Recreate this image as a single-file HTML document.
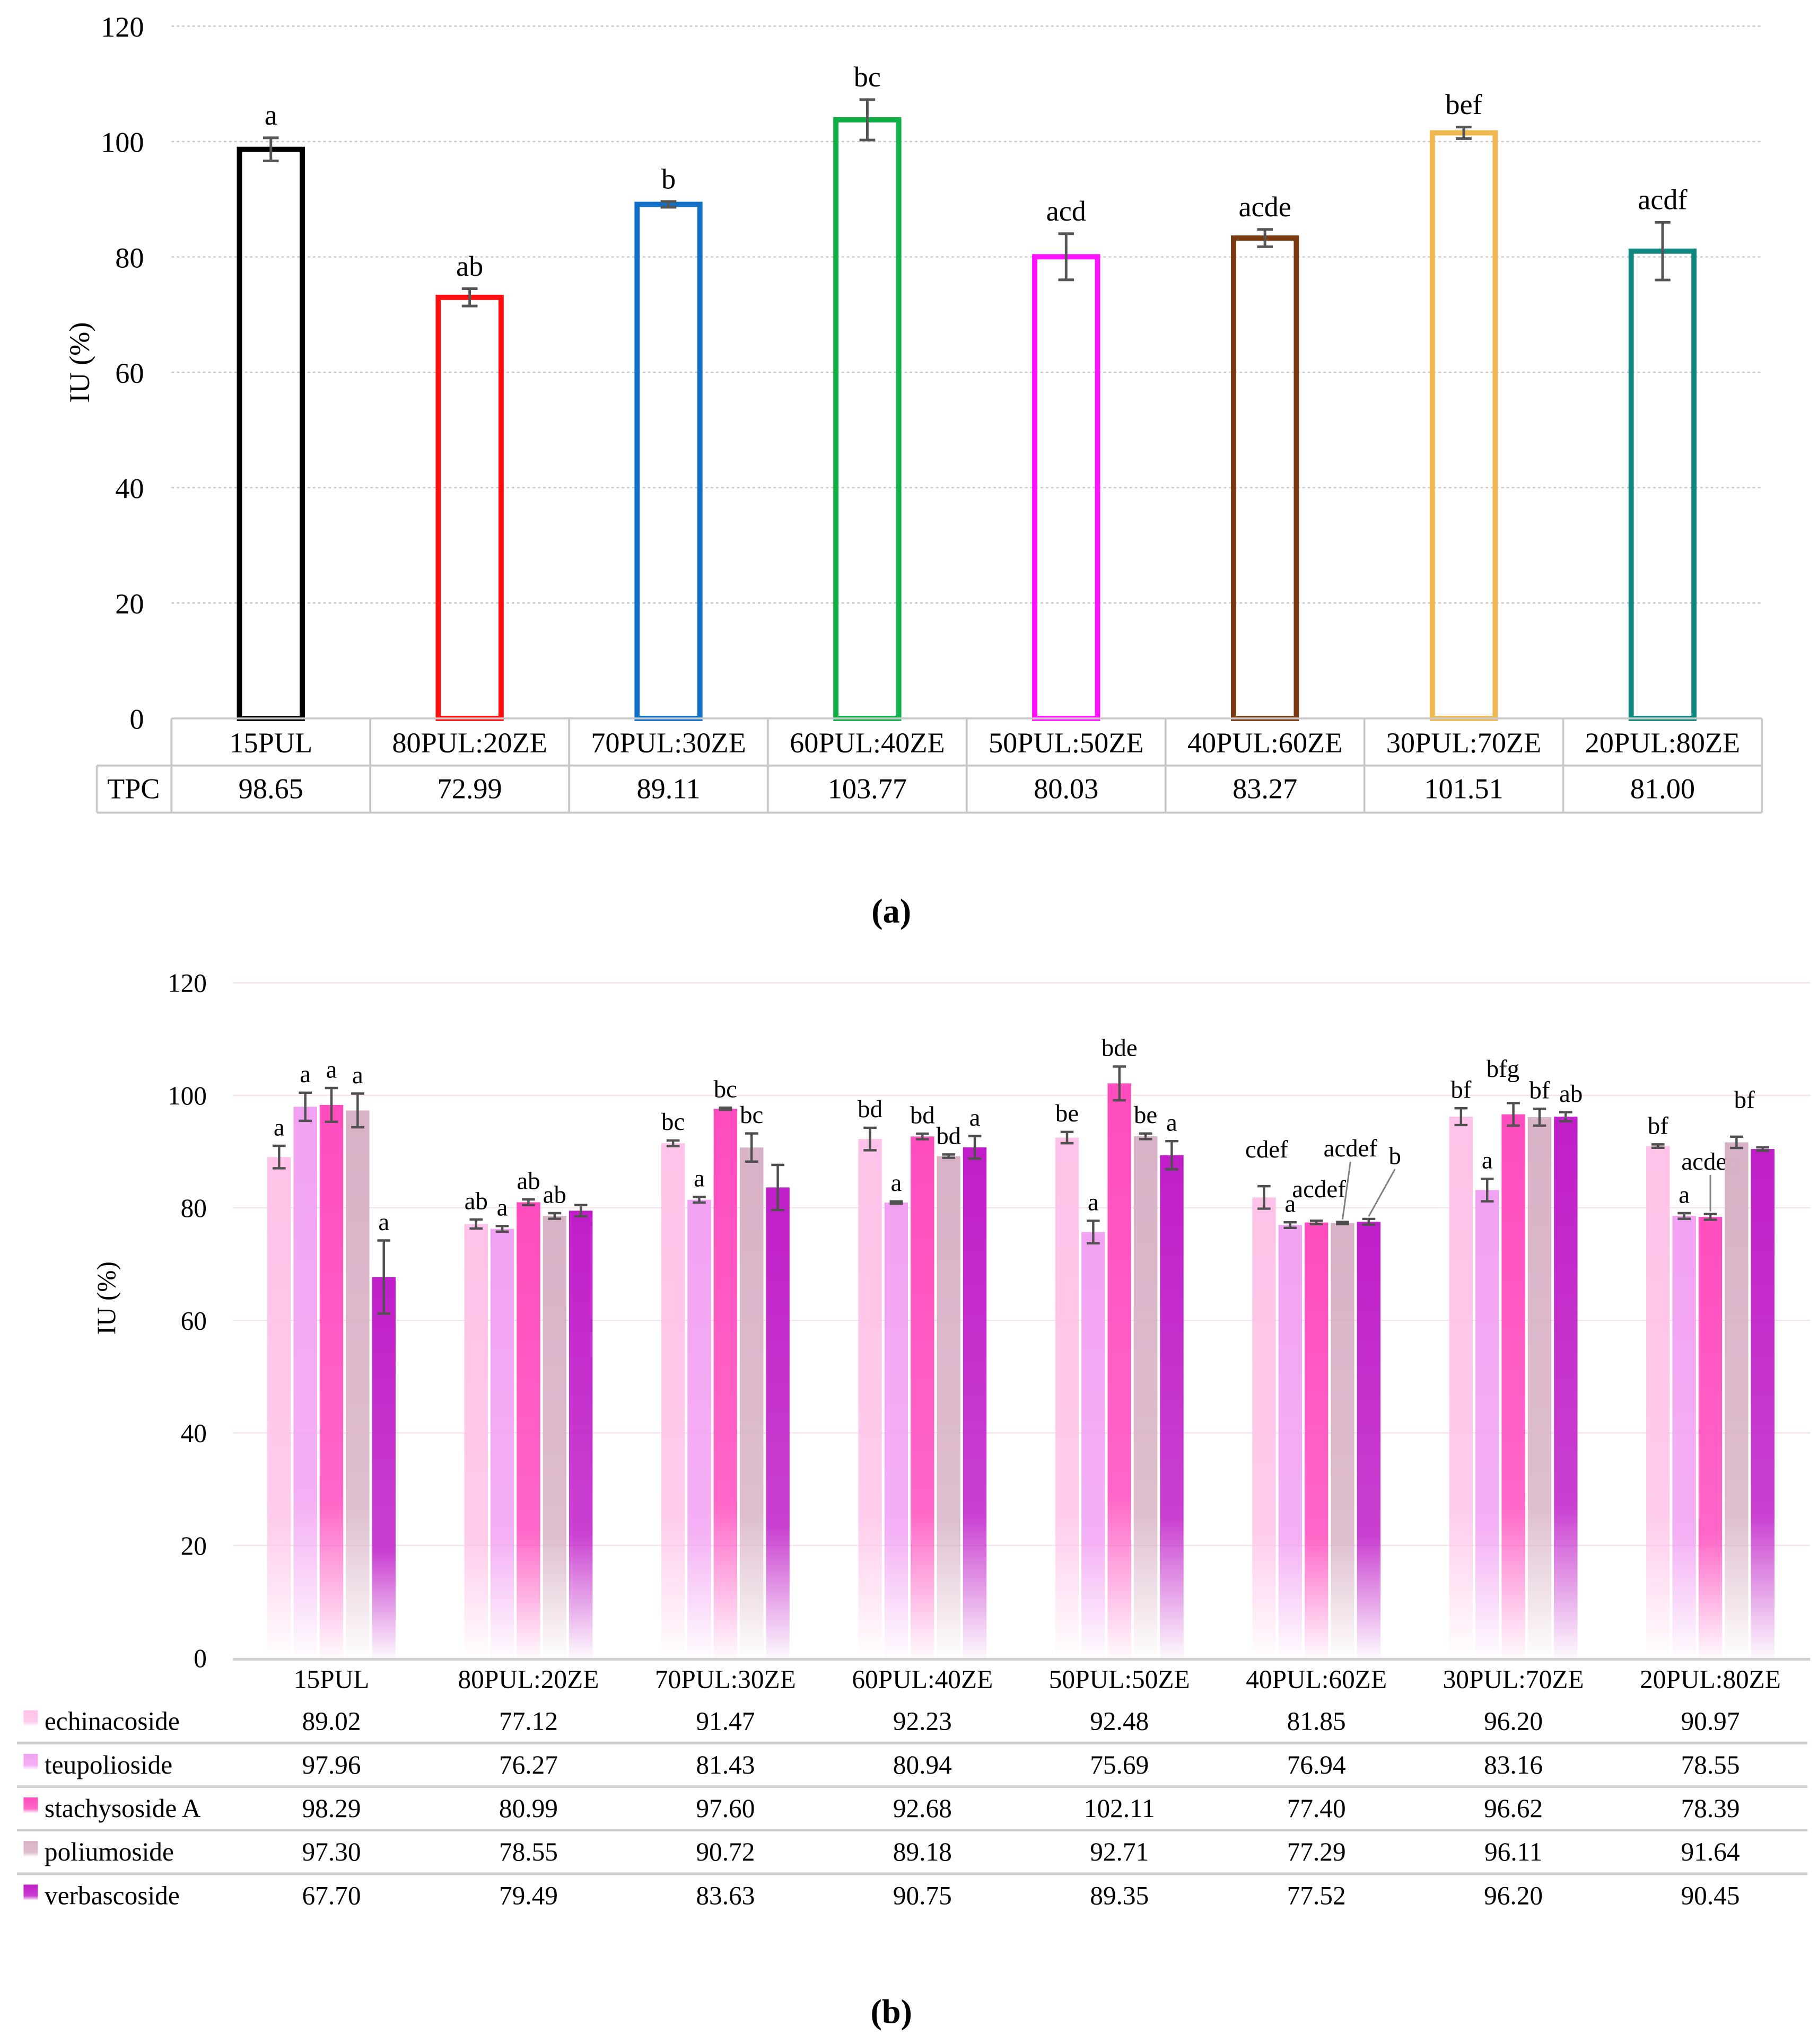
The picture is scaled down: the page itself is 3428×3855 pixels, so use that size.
<!DOCTYPE html>
<html><head><meta charset="utf-8"><style>
html,body{margin:0;padding:0;background:#fff}
svg,svg text{font-family:"Liberation Serif",serif}
svg{display:block}
</style></head><body>
<svg id="c" width="3428" height="3855" viewBox="0 0 1389 1562" xmlns="http://www.w3.org/2000/svg" font-family="Liberation Serif, serif">
<defs id="defs"></defs>
<g id="ga"></g>
<g id="gb"></g>
<text x="681" y="705" font-size="26" font-weight="bold" text-anchor="middle">(a)</text>
<text x="681" y="1546" font-size="26" font-weight="bold" text-anchor="middle">(b)</text>
</svg>
<script>
const catsA = ["15PUL","80PUL:20ZE","70PUL:30ZE","60PUL:40ZE","50PUL:50ZE","40PUL:60ZE","30PUL:70ZE","20PUL:80ZE"];
const valsA = [98.65,72.99,89.11,103.77,80.03,83.27,101.51,81.00];
const errA = [2,1.5,0.5,3.5,4,1.5,1,5];
const lettersA = ["a","ab","b","bc","acd","acde","bef","acdf"];
const colorsA = ["#000000","#ff1010","#1070c8","#10b048","#ff10ff","#7a3a10","#f0b850","#108880"];
const ticksA = [0,20,40,60,80,100,120];

const catsB = catsA;
const seriesB = ["echinacoside","teupolioside","stachysoside A","poliumoside","verbascoside"];
const echinacoside = [89.02,77.12,91.47,92.23,92.48,81.85,96.20,90.97];
const teupolioside = [97.96,76.27,81.43,80.94,75.69,76.94,83.16,78.55];
const stachysoside = [98.29,80.99,97.60,92.68,102.11,77.40,96.62,78.39];
const poliumoside = [97.30,78.55,90.72,89.18,92.71,77.29,96.11,91.64];
const verbascoside = [67.70,79.49,83.63,90.75,89.35,77.52,96.20,90.45];
const errEch = [2,0.8,0.5,2,1,2,1.5,0.3];
const errTeu = [2.5,0.5,0.5,0.2,2,0.5,2,0.5];
const errSta = [3,0.5,0.2,0.5,3,0.3,2,0.5];
const errPol = [3,0.5,2.5,0.3,0.5,0.2,1.5,1];
const errVer = [6.5,1,4,2,2.5,0.5,0.8,0.3];
const letEch = ["a","ab","bc","bd","be","cdef","bf","bf"];
const letTeu = ["a","a","a","a","a","a","a","a"];
const letSta = ["a","ab","bc","bd","bde","acdef","bfg","acdeg"];
const letPol = ["a","ab","bc","bd","be","acdef","bf","bf"];
const letVer = ["a","","","a","a","b","ab",""];
const colorsB = ["#ffc2e8","#f2a2f2","#ff4cbe","#d8b2c6","#c01ec8"];
const ticksB = [0,20,40,60,80,100,120];
// label layout nudges (group index -> series index -> [dx, dy]) for crowded groups
const labelNudge = {5:{0:[2,-14],2:[2,-10],3:[6,-42],4:[20,-34]},6:{2:[-8,-12],3:[0,0],4:[4,0]},7:{2:[0,-26],3:[6,-14]}};

const NS="http://www.w3.org/2000/svg";
function mk(parent,tag,attrs,text){const e=document.createElementNS(NS,tag);for(const k in attrs)e.setAttribute(k,attrs[k]);if(text!==undefined)e.textContent=text;parent.appendChild(e);return e;}

// ---------- Panel A ----------
const ga=document.getElementById('ga');
const yA=v=>549-v*(529/120);
const x0A=131, cwA=151.9;
const xA=i=>x0A+cwA*(i+0.5);
ticksA.forEach(t=>{
  if(t>0){const l=mk(ga,'line',{x1:131,x2:1346,y1:yA(t),y2:yA(t),stroke:'#c8c8c8','stroke-width':1,'stroke-dasharray':'2,2'});
  
  }
  const tx=mk(ga,'text',{x:110,y:yA(t)+8,'font-size':22,'text-anchor':'end'},String(t));
  
  
});
const ytA=mk(ga,'text',{x:0,y:0,'font-size':22,'text-anchor':'middle',transform:'translate(68,277) rotate(-90)'},'IU (%)');


catsA.forEach((c,i)=>{
  const cx=xA(i),v=valsA[i];
  const r=mk(ga,'rect',{x:cx-24,y:yA(v),width:48,height:yA(0)-yA(v),fill:'none',stroke:colorsA[i],'stroke-width':4});
  
  
  const e=errA[i];
  const eb=mk(ga,'path',{d:`M${cx} ${yA(v+e)}V${yA(v-e)}M${cx-6} ${yA(v+e)}H${cx+6}M${cx-6} ${yA(v-e)}H${cx+6}`,stroke:'#555','stroke-width':2,fill:'none'});
  
  
  const lt=mk(ga,'text',{x:cx,y:yA(v+e)-10,'font-size':22,'text-anchor':'middle'},lettersA[i]);
  
  
  const ct=mk(ga,'text',{x:cx,y:575,'font-size':22,'text-anchor':'middle'},c);
  
  
  const vt=mk(ga,'text',{x:cx,y:610,'font-size':22,'text-anchor':'middle'},v.toFixed(2));
  
  
});
const tl=mk(ga,'path',{d:'M131 549H1346M74 585H1346M74 621H1346M74 585V621M131 549V621M1346 549V621'+catsA.map((c,i)=>`M${x0A+cwA*(i+1)} 549V621`).join(''),stroke:'#c8c8c8','stroke-width':1.5,fill:'none'});


const tpc=mk(ga,'text',{x:102,y:610,'font-size':22,'text-anchor':'middle'},'TPC');



// ---------- Panel B ----------
const gb=document.getElementById('gb');
const defs=document.getElementById('defs');
colorsB.forEach((col,k)=>{
  const g=mk(defs,'linearGradient',{id:'gr'+k,x1:0,y1:0,x2:0,y2:1});
  mk(g,'stop',{offset:'0','stop-color':col});
  mk(g,'stop',{offset:'0.72','stop-color':col,'stop-opacity':0.85});
  mk(g,'stop',{offset:'1','stop-color':col,'stop-opacity':0.03});
});
const yB=v=>1267-v*(516/120);
const x0B=178, cwB=150.5;
const xB=i=>x0B+cwB*(i+0.5);
ticksB.forEach(t=>{
  if(t>0){const l=mk(gb,'line',{x1:178,x2:1383,y1:yB(t),y2:yB(t),stroke:'#f4e4ee','stroke-width':1});
  
  }
  const tx=mk(gb,'text',{x:158,y:yB(t)+7,'font-size':20,'text-anchor':'end'},String(t));
  
  
});
const base=mk(gb,'line',{x1:178,x2:1383,y1:1268,y2:1268,stroke:'#d0d0d0','stroke-width':2});


const ytB=mk(gb,'text',{x:0,y:0,'font-size':20,'text-anchor':'middle',transform:'translate(88,992) rotate(-90)'},'IU (%)');


const dataB=[echinacoside,teupolioside,stachysoside,poliumoside,verbascoside];
const errB=[errEch,errTeu,errSta,errPol,errVer];
const letB=[letEch,letTeu,letSta,letPol,letVer];
catsB.forEach((c,i)=>{
  const ct=mk(gb,'text',{x:xB(i),y:1290,'font-size':20,'text-anchor':'middle'},c);
  
  
  dataB.forEach((arr,k)=>{
    const cx=xB(i)+(k-2)*20, v=arr[i];
    const r=mk(gb,'rect',{x:cx-9,y:yB(v),width:18,height:yB(0)-yB(v),fill:`url(#gr${k})`});
    
    
    const e=errB[k][i];
    const eb=mk(gb,'path',{d:`M${cx} ${yB(v+e)}V${yB(v-e)}M${cx-5} ${yB(v+e)}H${cx+5}M${cx-5} ${yB(v-e)}H${cx+5}`,stroke:'#505050','stroke-width':1.8,fill:'none'});
    
    
    if(letB[k][i]){
      const nd=(labelNudge[i]&&labelNudge[i][k])||[0,0];
      const ly=yB(v+e)-8+nd[1], lx=cx+nd[0];
      if(nd[1]<-20){const ll=mk(gb,'line',{x1:cx,y1:yB(v+e)-2,x2:lx,y2:ly+4,stroke:'#808080','stroke-width':1.2});
      
      }
      const lt=mk(gb,'text',{x:lx,y:ly,'font-size':19,'text-anchor':'middle'},letB[k][i]);
      
      
    }
    const vt=mk(gb,'text',{x:xB(i),y:1322+k*33.3,'font-size':20,'text-anchor':'middle'},v.toFixed(2));
    
    
  });
});
seriesB.forEach((s,k)=>{
  const y=1322+k*33.3;
  const sw=mk(gb,'rect',{x:18,y:y-15,width:11,height:12,fill:`url(#gr${k})`});
  
  
  const t=mk(gb,'text',{x:34,y:y,'font-size':20},s);
  
  
  if(k<4){const l=mk(gb,'line',{x1:13,x2:1381,y1:y+10,y2:y+10,stroke:'#cfcfcf','stroke-width':2});
  
  }
});
</script>
</body></html>
